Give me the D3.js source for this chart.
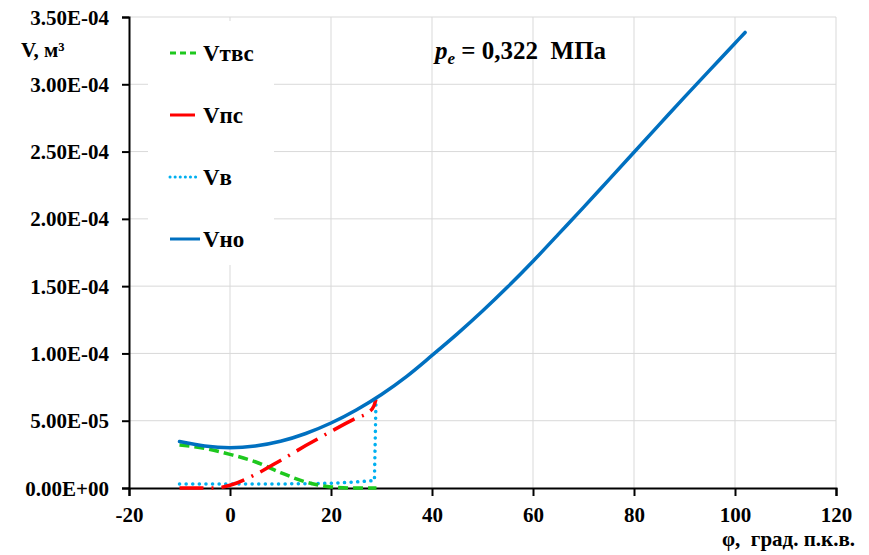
<!DOCTYPE html>
<html>
<head>
<meta charset="utf-8">
<script src="https://cdn.jsdelivr.net/npm/d3@7"></script>
<style>
    body { margin: 0; background: #fff; }
    text { font-family: "Liberation Serif", "Times New Roman", serif; font-weight: bold; fill: #000; }
</style>
</head>
<body>
<div class="chart"></div>
<script>
// crank angle, degrees
var phiNo = [-10, -5, 0, 5, 10, 15, 20, 25, 30, 35, 40, 45, 50, 55, 60, 65, 70, 75, 80, 85, 90, 95, 100, 102];
var vNo = [3.45e-5, 3.12e-5, 3.00e-5, 3.12e-5, 3.47e-5, 4.05e-5, 4.83e-5, 5.80e-5, 6.95e-5, 8.30e-5, 9.85e-5,
    1.145e-4, 1.315e-4, 1.495e-4, 1.685e-4, 1.885e-4, 2.085e-4, 2.29e-4, 2.495e-4, 2.70e-4, 2.905e-4, 3.105e-4, 3.305e-4, 3.385e-4];

var phiTvs = [-10, -5, 0, 5, 10, 15, 20, 25, 29];
var vTvs = [3.2e-5, 2.95e-5, 2.5e-5, 1.95e-5, 1.15e-5, 0.45e-5, 0.08e-5, 0, 0];

var phiPs = [-10, -5, -3, 0, 5, 10, 15, 20, 25, 27.5, 28.5, 28.9];
var vPs = [0, 0, 0, 0.2e-5, 1.0e-5, 2.05e-5, 3.15e-5, 4.2e-5, 5.2e-5, 5.65e-5, 6.1e-5, 6.6e-5];

var phiV = [-10, 0, 10, 20, 25, 28.6, 28.9];
var vV = [0.3e-5, 0.3e-5, 0.3e-5, 0.35e-5, 0.45e-5, 0.55e-5, 6.3e-5];

var xTicks = [-20, 0, 20, 40, 60, 80, 100, 120];
var yTicks = [0, 5e-5, 1e-4, 1.5e-4, 2e-4, 2.5e-4, 3e-4, 3.5e-4];

var legendNames = ["Vтвс", "Vпс", "Vв", "Vно"];

var width = 869, height = 555;

var x = d3.scaleLinear().domain([-20, 120]).range([129, 836]);
var y = d3.scaleLinear().domain([0, 3.5e-4]).range([488, 17]);

var svg = d3.select(".chart").append("svg")
    .attr("width", width)
    .attr("height", height);

// grid
svg.append("g").selectAll("line")
    .data(yTicks.slice(1))
    .enter().append("line")
    .attr("x1", x(-20)).attr("x2", x(120))
    .attr("y1", function(d) { return y(d); }).attr("y2", function(d) { return y(d); })
    .attr("stroke", "#d9d9d9").attr("stroke-width", 1);

svg.append("g").selectAll("line")
    .data(xTicks.slice(1))
    .enter().append("line")
    .attr("x1", function(d) { return x(d); }).attr("x2", function(d) { return x(d); })
    .attr("y1", y(0)).attr("y2", y(3.5e-4))
    .attr("stroke", "#d9d9d9").attr("stroke-width", 1);

function fmt(d) {
    return d.toExponential(2).toUpperCase().replace(/E([+-])(\d)$/, "E$10$2");
}

var yAxis = svg.append("g")
    .attr("transform", "translate(" + x(-20) + ",0)")
    .call(d3.axisLeft(y).tickValues(yTicks).tickFormat(fmt).tickSize(7).tickPadding(13));

var xAxis = svg.append("g")
    .attr("transform", "translate(0," + y(0) + ")")
    .call(d3.axisBottom(x).tickValues(xTicks).tickFormat(function(d) { return String(d); }).tickSize(8).tickPadding(11));

[xAxis, yAxis].forEach(function(a) {
    a.select(".domain").attr("stroke", "#000").attr("stroke-width", 2);
    a.selectAll(".tick line").attr("stroke", "#000").attr("stroke-width", 2);
    a.selectAll(".tick text").style("font-size", "21px").attr("fill", "#000");
});
yAxis.selectAll(".tick text").attr("dy", "0.34em");
xAxis.selectAll(".tick text").attr("dy", "0.7em");

// curves
function line(xs, ys, curve) {
    var pts = xs.map(function(d, i) { return [d, ys[i]]; });
    return d3.line()
        .x(function(d) { return x(d[0]); })
        .y(function(d) { return y(d[1]); })
        .curve(curve)(pts);
}

svg.append("path")
    .attr("d", line(phiV, vV, d3.curveLinear))
    .attr("fill", "none").attr("stroke", "#00b0f0").attr("stroke-width", 3.5)
    .attr("stroke-linecap", "round").attr("stroke-dasharray", "0.1,6.5");

svg.append("path")
    .attr("d", line(phiTvs, vTvs, d3.curveMonotoneX))
    .attr("fill", "none").attr("stroke", "#1ec81e").attr("stroke-width", 3.5)
    .attr("stroke-dasharray", "10,5");

svg.append("path")
    .attr("d", line(phiPs, vPs, d3.curveMonotoneX))
    .attr("fill", "none").attr("stroke", "#ff0000").attr("stroke-width", 3.5)
    .attr("stroke-dasharray", "24,8,2,8");

svg.append("path")
    .attr("d", line(phiNo, vNo, d3.curveCatmullRom))
    .attr("fill", "none").attr("stroke", "#0070c0").attr("stroke-width", 3.5)
    .attr("stroke-linecap", "round");

// legend
var legend = svg.append("g");
legend.append("rect")
    .attr("x", 148).attr("y", 21).attr("width", 126).attr("height", 244)
    .attr("fill", "#fff");

var legendStyle = [
    { color: "#1ec81e", dash: "6,4", cap: "butt", x2: 200 },
    { color: "#ff0000", dash: null, cap: "butt", x2: 195 },
    { color: "#00b0f0", dash: "0.1,5", cap: "round", x2: 197 },
    { color: "#0070c0", dash: null, cap: "butt", x2: 200 }
];

var item = legend.selectAll(".item")
    .data(legendNames)
    .enter().append("g")
    .attr("class", "item")
    .attr("transform", function(d, i) { return "translate(0," + (53 + i * 62) + ")"; });

item.append("line")
    .attr("x1", 170).attr("x2", function(d, i) { return legendStyle[i].x2; })
    .attr("y1", 0).attr("y2", 0)
    .attr("stroke", function(d, i) { return legendStyle[i].color; })
    .attr("stroke-width", 3)
    .attr("stroke-linecap", function(d, i) { return legendStyle[i].cap; })
    .attr("stroke-dasharray", function(d, i) { return legendStyle[i].dash; });

item.append("text")
    .attr("x", 203).attr("y", 8)
    .style("font-size", "23px")
    .text(function(d) { return d; });

// titles
var title = svg.append("text")
    .attr("x", 435).attr("y", 59)
    .style("font-size", "25px");
title.append("tspan").style("font-style", "italic").text("p");
title.append("tspan").style("font-style", "italic").style("font-size", "17px").attr("dy", 5).text("e");
title.append("tspan").attr("dy", -5).text(" = 0,322\u00a0\u00a0МПа");

svg.append("text")
    .attr("x", 21).attr("y", 57)
    .style("font-size", "21px")
    .text("V, м³");

svg.append("text")
    .attr("x", 855).attr("y", 546)
    .attr("text-anchor", "end")
    .style("font-size", "21px")
    .text("φ,\u00a0\u00a0град. п.к.в.");
</script>
</body>
</html>
